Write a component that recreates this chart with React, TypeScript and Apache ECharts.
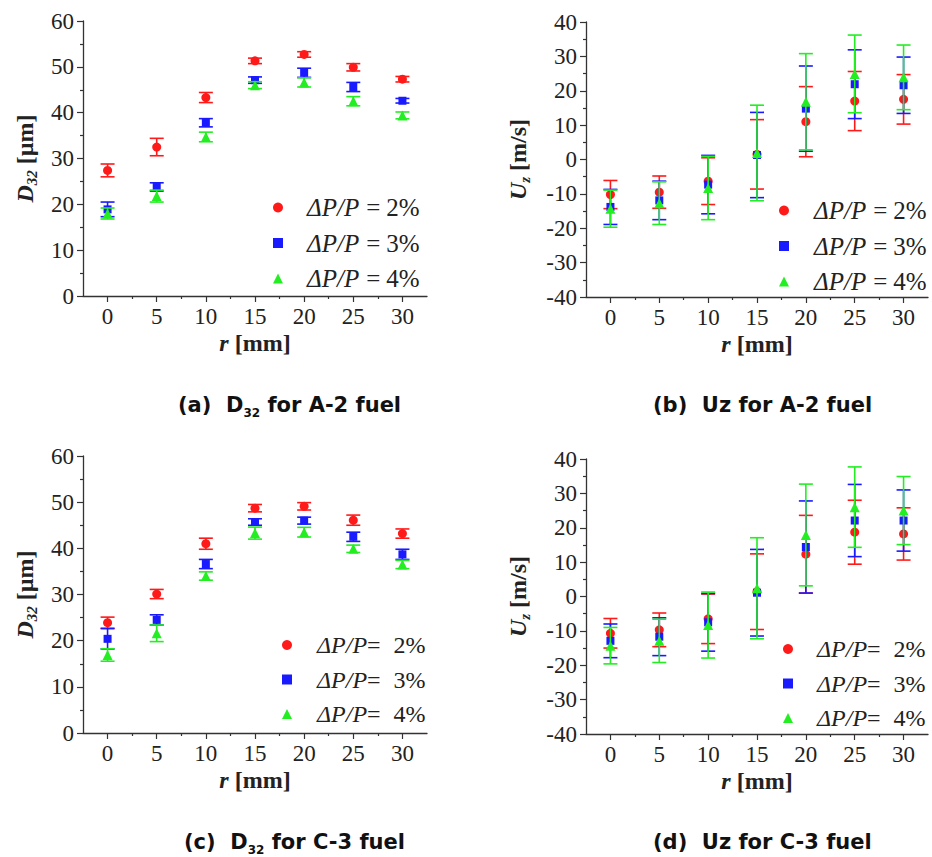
import React, { useEffect, useRef } from 'react';
import * as echarts from 'echarts';

// ---------- data ----------
const rValues = [0, 5, 10, 15, 20, 25, 30];
const seriesNames = ['2%', '3%', '4%'];

// (a) D32, A-2 fuel
const a2D32_2 = [27.4, 32.5, 43.3, 51.3, 52.7, 49.9, 47.3];
const a2D32_2Err = [1.4, 1.9, 1.1, 0.6, 0.6, 0.8, 0.6];
const a2D32_3 = [18.9, 23.8, 37.8, 47.1, 48.7, 45.6, 42.6];
const a2D32_3Err = [1.6, 0.9, 0.9, 0.7, 1.0, 1.0, 0.5];
const a2D32_4 = [18.0, 21.8, 34.7, 46.0, 46.6, 42.5, 39.4];
const a2D32_4Err = [1.2, 1.3, 1.05, 0.75, 1.0, 1.0, 0.75];

// (b) Uz, A-2 fuel
const a2Uz_2 = [-10.2, -9.5, -6.3, 1.5, 11.0, 17.0, 17.5];
const a2Uz_2Err = [4.1, 4.7, 6.8, 10.1, 10.2, 8.6, 7.2];
const a2Uz_3 = [-13.8, -11.9, -7.3, 1.3, 14.8, 21.9, 21.6];
const a2Uz_3Err = [5.1, 5.6, 8.5, 12.4, 12.4, 10.0, 8.2];
const a2Uz_4 = [-14.3, -12.7, -8.3, 1.9, 16.8, 24.9, 23.9];
const a2Uz_4Err = [5.4, 6.2, 9.2, 13.9, 14.0, 11.3, 9.4];

// (c) D32, C-3 fuel
const c3D32_2 = [23.9, 30.1, 41.0, 48.7, 49.1, 46.1, 43.2];
const c3D32_2Err = [1.2, 1.0, 1.2, 0.8, 0.8, 1.1, 1.0];
const c3D32_3 = [20.4, 24.5, 36.6, 45.7, 46.0, 42.5, 38.7];
const c3D32_3Err = [2.2, 1.1, 1.0, 0.7, 0.75, 1.0, 1.1];
const c3D32_4 = [16.9, 21.6, 34.0, 43.3, 43.5, 39.9, 36.5];
const c3D32_4Err = [1.35, 1.8, 0.9, 1.3, 1.05, 0.8, 0.9];

// (d) Uz, C-3 fuel
const c3Uz_2 = [-10.7, -9.7, -6.5, 1.4, 12.3, 18.7, 18.2];
const c3Uz_2Err = [4.3, 4.9, 7.2, 11.0, 11.3, 9.3, 7.6];
const c3Uz_3 = [-12.9, -11.7, -7.5, 1.1, 14.4, 22.1, 22.1];
const c3Uz_3Err = [4.9, 5.5, 8.4, 12.6, 13.4, 10.5, 8.9];
const c3Uz_4 = [-14.3, -12.9, -8.3, 2.4, 17.9, 26.0, 25.0];
const c3Uz_4Err = [5.3, 6.3, 9.6, 14.7, 14.8, 11.7, 9.9];

const xMajorTicks = [0, 5, 10, 15, 20, 25, 30];
const xMinorTicks = [2.5, 7.5, 12.5, 17.5, 22.5, 27.5];

// ---------- styles ----------
const colors = ['#ff1a1a', '#1a1aff', '#22ee22'];
const symbols = ['circle', 'rect', 'triangle'];
const symbolSizes = [9, 8, 10];
const SERIF = 'Liberation Serif, Times New Roman, serif';
const SANS = 'DejaVu Sans, sans-serif';
const AXIS_COLOR = '#333';
const TEXT_COLOR = '#222';

const panels = [
  {
    vals: [a2D32_2, a2D32_3, a2D32_4],
    errs: [a2D32_2Err, a2D32_3Err, a2D32_4Err],
    yMin: 0, yMax: 60, yInterval: 10,
    grid: { left: 83, top: 21, width: 344, height: 275 },
    yName: '{i|D}{s|32}{b| [µm]}', yNameGap: 44,
    legend: { left: 273, top: 195, pad: 19, eqPad: [0, 6, 0, 7], fs: 25 },
    title: { left: 178, top: 394, tag: '(a)', qty: 'D', sub: '32', fuel: 'A-2' },
  },
  {
    vals: [a2Uz_2, a2Uz_3, a2Uz_4],
    errs: [a2Uz_2Err, a2Uz_3Err, a2Uz_4Err],
    yMin: -40, yMax: 40, yInterval: 10,
    grid: { left: 586, top: 22, width: 342, height: 275 },
    yName: '{i|U}{s|z}{b| [m/s]}', yNameGap: 54,
    legend: { left: 779, top: 198, pad: 20, eqPad: [0, 6, 0, 7], fs: 25 },
    title: { left: 653, top: 394, tag: '(b)', qty: 'Uz', sub: '', fuel: 'A-2' },
  },
  {
    vals: [c3D32_2, c3D32_3, c3D32_4],
    errs: [c3D32_2Err, c3D32_3Err, c3D32_4Err],
    yMin: 0, yMax: 60, yInterval: 10,
    grid: { left: 83, top: 456, width: 344, height: 277 },
    yName: '{i|D}{s|32}{b| [µm]}', yNameGap: 44,
    legend: { left: 282, top: 633, pad: 20, eqPad: [0, 13, 0, 0], fs: 24 },
    title: { left: 184, top: 831, tag: '(c)', qty: 'D', sub: '32', fuel: 'C-3' },
  },
  {
    vals: [c3Uz_2, c3Uz_3, c3Uz_4],
    errs: [c3Uz_2Err, c3Uz_3Err, c3Uz_4Err],
    yMin: -40, yMax: 40, yInterval: 10,
    grid: { left: 586, top: 459, width: 342, height: 275 },
    yName: '{i|U}{s|z}{b| [m/s]}', yNameGap: 54,
    legend: { left: 783, top: 637, pad: 19, eqPad: [0, 13, 0, 0], fs: 24 },
    title: { left: 653, top: 831, tag: '(d)', qty: 'Uz', sub: '', fuel: 'C-3' },
  },
];

const nameRich = {
  i: { fontFamily: SERIF, fontSize: 24, fontWeight: 'bold', fontStyle: 'italic', color: TEXT_COLOR, lineHeight: 28, verticalAlign: 'middle' },
  s: { fontFamily: SERIF, fontSize: 15, fontWeight: 'bold', fontStyle: 'italic', color: TEXT_COLOR, lineHeight: 14, verticalAlign: 'bottom' },
  b: { fontFamily: SERIF, fontSize: 24, fontWeight: 'bold', color: TEXT_COLOR, lineHeight: 28, verticalAlign: 'middle' },
};

function buildOption() {
  const grid: any[] = [];
  const xAxis: any[] = [];
  const yAxis: any[] = [];
  const series: any[] = [];
  const legend: any[] = [];
  const graphic: any[] = [];

  panels.forEach((p, gi) => {
    grid.push({ ...p.grid, containLabel: false });
    xAxis.push({
      type: 'value', gridIndex: gi, min: -2.5, max: 32.5, position: 'bottom',
      name: '{i|r}{b| [mm]}', nameLocation: 'middle', nameGap: 33,
      nameTextStyle: { rich: nameRich },
      axisLine: { show: true, onZero: false, lineStyle: { color: AXIS_COLOR, width: 1.3 } },
      axisTick: { show: true, customValues: xMajorTicks, length: 6, lineStyle: { color: AXIS_COLOR, width: 1.2 } },
      axisLabel: { customValues: xMajorTicks, margin: 9, fontFamily: SERIF, fontSize: 23, color: TEXT_COLOR },
      splitLine: { show: false },
    });
    yAxis.push({
      type: 'value', gridIndex: gi, min: p.yMin, max: p.yMax, interval: p.yInterval,
      name: p.yName, nameLocation: 'middle', nameRotate: 90, nameGap: p.yNameGap,
      nameTextStyle: { rich: nameRich },
      axisLine: { show: true, onZero: false, lineStyle: { color: AXIS_COLOR, width: 1.3 } },
      axisTick: { show: true, length: 6, lineStyle: { color: AXIS_COLOR, width: 1.2 } },
      minorTick: { show: true, splitNumber: 2, length: 3, lineStyle: { color: AXIS_COLOR, width: 1.2 } },
      axisLabel: { margin: 9, fontFamily: SERIF, fontSize: 23, color: TEXT_COLOR },
      splitLine: { show: false },
    });

    for (let k = 0; k < 3; k++) {
      const vals = p.vals[k];
      const errs = p.errs[k];
      const color = colors[k];
      series.push({
        type: 'custom',
        name: `err-${gi}-${k}`,
        xAxisIndex: gi, yAxisIndex: gi,
        data: rValues.map((r, i) => [r, vals[i] - errs[i], vals[i] + errs[i]]),
        encode: { x: 0, y: [1, 2] },
        z: 2 + k * 2,
        silent: true,
        renderItem: (params: any, api: any) => {
          const x = api.value(0);
          const lo = api.coord([x, api.value(1)]);
          const hi = api.coord([x, api.value(2)]);
          const hw = 7;
          const style = { stroke: color, lineWidth: 1.6, fill: null };
          return {
            type: 'group',
            children: [
              { type: 'line', shape: { x1: lo[0], y1: lo[1], x2: hi[0], y2: hi[1] }, style },
              { type: 'line', shape: { x1: lo[0] - hw, y1: lo[1], x2: lo[0] + hw, y2: lo[1] }, style },
              { type: 'line', shape: { x1: hi[0] - hw, y1: hi[1], x2: hi[0] + hw, y2: hi[1] }, style },
            ],
          };
        },
      });
      series.push({
        type: 'scatter',
        name: seriesNames[k],
        xAxisIndex: gi, yAxisIndex: gi,
        symbol: symbols[k],
        symbolSize: symbolSizes[k],
        itemStyle: { color, opacity: 1 },
        z: 3 + k * 2,
        data: rValues.map((r, i) => [r, vals[i]]),
      });
    }

    const fs = p.legend.fs;
    legend.push({
      orient: 'vertical',
      left: p.legend.left, top: p.legend.top,
      padding: 0,
      itemWidth: 10, itemHeight: 10, itemGap: 10.5,
      selectedMode: false,
      data: seriesNames,
      formatter: (name: string) => `{i|ΔP/P}{e|=}{n|${name}}`,
      textStyle: {
        fontFamily: SERIF, fontSize: fs, color: TEXT_COLOR, lineHeight: 24,
        rich: {
          i: { fontFamily: SERIF, fontSize: fs, fontStyle: 'italic', color: TEXT_COLOR, lineHeight: 24, padding: [0, 0, 0, p.legend.pad] },
          e: { fontFamily: SERIF, fontSize: fs, color: TEXT_COLOR, lineHeight: 24, padding: p.legend.eqPad },
          n: { fontFamily: SERIF, fontSize: fs, color: TEXT_COLOR, lineHeight: 24 },
        },
      },
    });

    const t = p.title;
    const titleText = t.sub
      ? `{m|${t.tag}  ${t.qty}}{s|${t.sub}}{m| for ${t.fuel} fuel}`
      : `{m|${t.tag}  ${t.qty} for ${t.fuel} fuel}`;
    graphic.push({
      type: 'text',
      left: t.left, top: t.top,
      style: {
        text: titleText,
        rich: {
          m: { fontFamily: SANS, fontSize: 21, fontWeight: 'bold', fill: '#111', lineHeight: 28, verticalAlign: 'middle' },
          s: { fontFamily: SANS, fontSize: 12, fontWeight: 'bold', fill: '#111', lineHeight: 12, verticalAlign: 'bottom' },
        },
      },
    });
  });

  // minor x ticks (overlay axes, ticks only)
  panels.forEach((p, gi) => {
    xAxis.push({
      type: 'value', gridIndex: gi, min: -2.5, max: 32.5, position: 'bottom',
      axisLine: { show: false, onZero: false },
      axisTick: { show: true, customValues: xMinorTicks, length: 3, lineStyle: { color: AXIS_COLOR, width: 1.2 } },
      axisLabel: { show: false },
      splitLine: { show: false },
    });
  });

  return {
    animation: false,
    backgroundColor: '#ffffff',
    grid, xAxis, yAxis, series, legend, graphic,
  };
}

export default function App() {
  const ref = useRef<HTMLDivElement>(null);
  useEffect(() => {
    if (!ref.current) return;
    const chart = echarts.init(ref.current, undefined, { renderer: 'svg' });
    chart.setOption(buildOption() as any);
    return () => chart.dispose();
  }, []);
  return (
    <div
      ref={ref}
      style={{ position: 'absolute', left: 0, top: 0, width: 932, height: 857, background: '#fff' }}
    />
  );
}
